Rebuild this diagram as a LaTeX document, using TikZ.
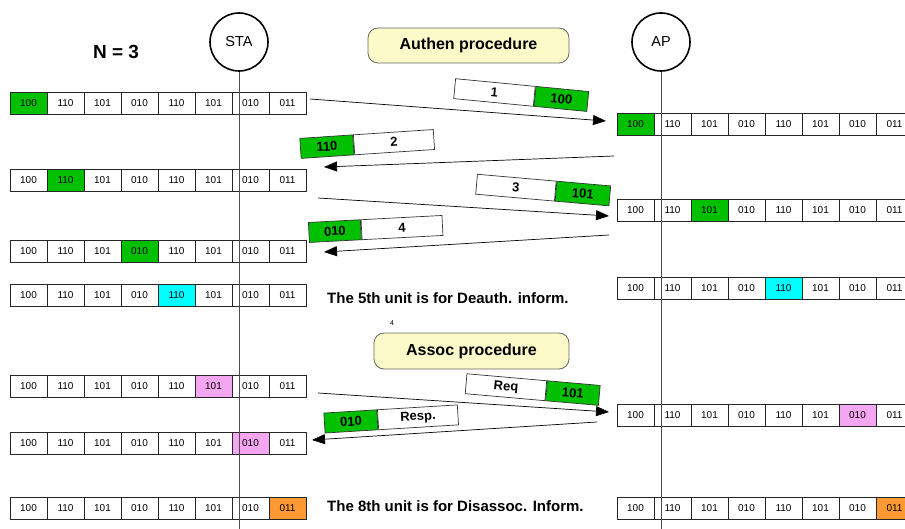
\documentclass[tikz,border=0pt]{standalone}
\usepackage{fontspec}
\setmainfont{Liberation Sans}
\usetikzlibrary{arrows.meta}
\definecolor{pgreen}{RGB}{0,192,0}
\definecolor{pcyan}{RGB}{0,255,255}
\definecolor{ppink}{RGB}{244,166,240}
\definecolor{porange}{RGB}{255,153,51}
\definecolor{pyellow}{RGB}{252,250,200}
\newcommand{\cellrow}[5]{%
  \foreach \lab [count=\i] in {100,110,101,010,110,101,010,011}{%
    \ifnum\i=#4 \def\cfill{#5}\else\def\cfill{white}\fi
    \node[cell, fill=\cfill] (#1-\i) at ({#2+37*\i-18.5},-#3) {\lab};
  }}
\newcommand{\pkt}[9]{%
  \begin{scope}[shift={(#2,-#3)}, rotate=#4, transform shape]
    \node[pktbox, fill=#6, minimum width=#7pt, anchor=west] (#1a) at (-66.5,0) {#5};
    \node[pktbox, fill=#9, minimum width=133pt-#7pt, anchor=west] (#1b) at (#1a.east) {#8};
  \end{scope}}
\begin{document}
\begin{tikzpicture}[x=1pt,y=1pt,
  cell/.style={draw=black!85, line width=0.7pt, minimum width=37pt, minimum height=22pt,
    inner sep=0pt, font=\fontsize{10}{12}\selectfont},
  pktbox/.style={draw=black!80, line width=0.7pt, minimum height=20pt, inner sep=0pt,
    font=\bfseries\fontsize{13}{15}\selectfont},
  station/.style={circle, draw=black, line width=1.6pt, minimum size=58pt, inner sep=0pt,
    font=\fontsize{14.5}{16}\selectfont, fill=white},
  life/.style={draw=black!70, line width=0.8pt},
  msg/.style={draw=black, line width=0.7pt, -{Triangle[length=13pt,width=10pt]}},
  proc/.style={draw=black!60, line width=0.8pt, fill=pyellow, rounded corners=10pt,
    font=\bfseries\fontsize{16}{18}\selectfont},
  note/.style={anchor=west, inner sep=0pt, font=\bfseries\fontsize{15}{18}\selectfont}
]
\useasboundingbox (0,0) rectangle (905,-529);

% stations
\node[station] (sta) at (239,-42) {STA};
\node[station] (ap) at (661,-42) {AP};
\node[font=\bfseries\fontsize{19}{22}\selectfont] (n3) at (116,-52) {N = 3};

% procedure labels
\node[proc, minimum width=201pt, minimum height=35pt] (authen) at (468.5,-45.5) {Authen procedure};
\node[proc, minimum width=195pt, minimum height=36pt] (assoc) at (471.5,-351) {Assoc procedure};
\node[font=\fontsize{7}{8}\selectfont] (four) at (392,-323) {4};

% left rows
\cellrow{L1}{10}{103.5}{1}{pgreen}
\cellrow{L2}{10}{180.5}{2}{pgreen}
\cellrow{L3}{10}{251}{4}{pgreen}
\cellrow{L4}{10}{295}{5}{pcyan}
\cellrow{L5}{10}{386.5}{6}{ppink}
\cellrow{L6}{10}{443}{7}{ppink}
\cellrow{L7}{10}{508}{8}{porange}

% right rows
\cellrow{R1}{617}{124}{1}{pgreen}
\cellrow{R2}{617}{210}{3}{pgreen}
\cellrow{R3}{617}{288.5}{5}{pcyan}
\cellrow{R4}{617}{415}{7}{ppink}
\cellrow{R5}{617}{508}{8}{porange}

% life lines
\coordinate (staend) at (239,-529);
\coordinate (apend) at (661,-529);
\draw[life] (sta) -- (staend);
\draw[life] (ap) -- (apend);

% notes
\node[note] (deauth) at (327,-298) {The 5th unit is for Deauth. inform.};
\node[note] (disassoc) at (327,-506) {The 8th unit is for Disassoc. Inform.};

% message arrows
\coordinate (a1s) at (310,-99);  \coordinate (a1e) at (606,-121);
\coordinate (a2s) at (614,-156); \coordinate (a2e) at (324,-167);
\coordinate (a3s) at (318,-198); \coordinate (a3e) at (609,-216);
\coordinate (a4s) at (609,-235); \coordinate (a4e) at (324,-252);
\coordinate (a5s) at (318,-393); \coordinate (a5e) at (609,-412);
\coordinate (a6s) at (597,-422); \coordinate (a6e) at (312,-440);
\draw[msg] (a1s) -- (a1e);
\draw[msg] (a2s) -- (a2e);
\draw[msg] (a3s) -- (a3e);
\draw[msg] (a4s) -- (a4e);
\draw[msg] (a5s) -- (a5e);
\draw[msg] (a6s) -- (a6e);

% packets
\pkt{p1}{520.5}{95}{-5.5}{1}{white}{80}{100}{pgreen}
\pkt{p2}{366.5}{144}{3.8}{110}{pgreen}{53}{2}{white}
\pkt{p3}{542.5}{190}{-5}{3}{white}{79}{101}{pgreen}
\pkt{p4}{375}{229}{3}{010}{pgreen}{52}{4}{white}
\pkt{p5}{532}{389.5}{-5}{Req}{white}{80}{101}{pgreen}
\pkt{p6}{390.5}{419}{3.5}{010}{pgreen}{53}{Resp.}{white}
\end{tikzpicture}
\end{document}
